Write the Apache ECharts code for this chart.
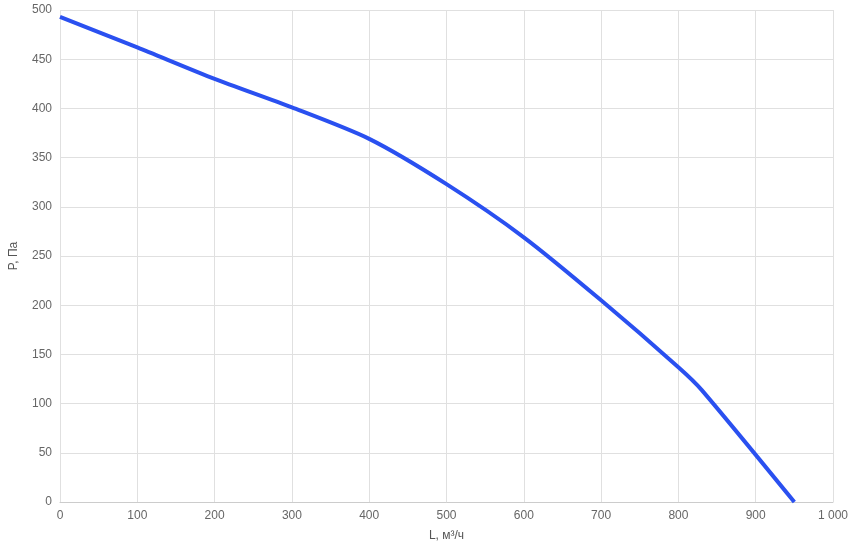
<!DOCTYPE html>
<html>
<head>
<meta charset="utf-8">
<script src="https://cdn.jsdelivr.net/npm/echarts@6/dist/echarts.min.js"></script>
<style>
  html, body { margin: 0; padding: 0; background: #fff; }
  #chart { width: 851px; height: 553px; }
</style>
</head>
<body>
<div id="chart"></div>
<script>
const flow = [0, 100, 200, 300, 400, 500, 600, 700, 800, 830, 950];
const pressure = [493, 462, 430, 401, 369, 323, 269, 205, 137, 114, 0];

const labelColor = "#666";
const gridColor = "#e0e0e0";

const chart = echarts.init(document.getElementById("chart"));
chart.setOption({
  animation: false,
  grid: { left: 52, right: 18, top: 10, bottom: 51 },
  xAxis: {
    type: "value",
    min: 0,
    max: 1000,
    interval: 100,
    name: "L, м³/ч",
    nameLocation: "middle",
    nameGap: 28,
    nameTextStyle: { color: "#555", fontSize: 12 },
    axisLine: { lineStyle: { color: "#ccc" } },
    axisTick: { show: false },
    axisLabel: { color: labelColor, fontSize: 12, formatter: (v) => String(v).replace(/\B(?=(\d{3})+(?!\d))/g, " ") },
    splitLine: { lineStyle: { color: gridColor } }
  },
  yAxis: {
    type: "value",
    min: 0,
    max: 500,
    interval: 50,
    name: "P, Па",
    nameLocation: "middle",
    nameGap: 40,
    nameTextStyle: { color: "#555", fontSize: 12 },
    axisLine: { show: false },
    axisTick: { show: false },
    axisLabel: { color: labelColor, fontSize: 12 },
    splitLine: { lineStyle: { color: gridColor } }
  },
  series: [{
    type: "line",
    smooth: 0.25,
    showSymbol: false,
    lineStyle: { color: "#2a50f0", width: 4 },
    data: flow.map((x, i) => [x, pressure[i]])
  }]
});
</script>
</body>
</html>
